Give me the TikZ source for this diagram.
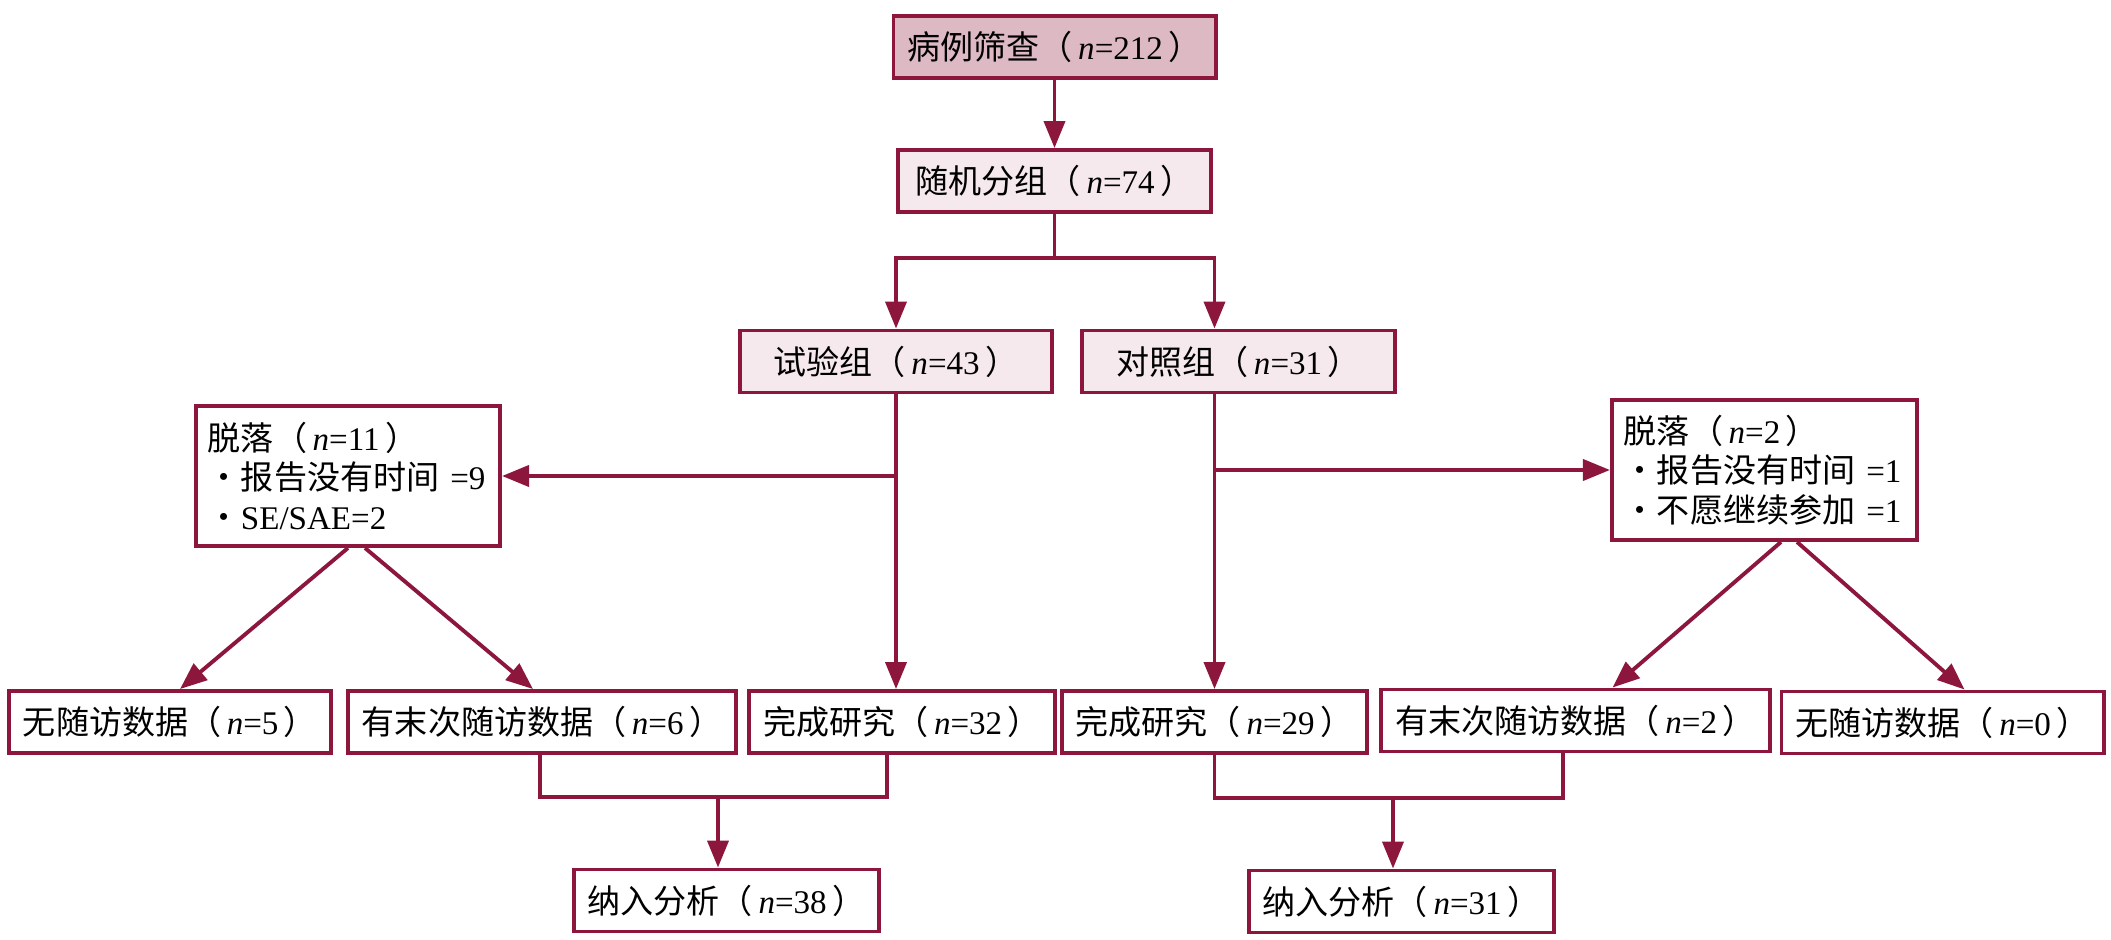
\documentclass[tikz,border=0pt]{standalone}
\usepackage{fontspec}
\setmainfont{Liberation Serif}
\newfontfamily\cjk{Noto Sans CJK SC}
\usetikzlibrary{arrows.meta,positioning}
\definecolor{wine}{RGB}{140,22,60}
\definecolor{pinkdark}{RGB}{221,185,196}
\definecolor{pinklight}{RGB}{245,233,237}
\newcommand{\zh}[1]{{\cjk #1}}
\newcommand{\nval}[1]{\zh{（}\,\textit{n}=#1\,\zh{）}}
\tikzstyle{box}=[draw=wine,line width=1.1pt,inner xsep=0.14cm,inner ysep=0pt,align=center,minimum height=0.62cm,font=\fontsize{9.4}{11.3}\selectfont]
\tikzstyle{dropbox}=[box,align=left,inner xsep=0.12cm,minimum height=1.40cm]
\tikzstyle{link}=[draw=wine,line width=1.1pt]
\tikzstyle{arr}=[link,-{Triangle[length=0.27cm,width=0.21cm]}]

\begin{document}
\begin{tikzpicture}[x=0.01cm,y=-0.01cm]
\useasboundingbox (0,0) rectangle (2111,940);

% top part
\node [box,fill=pinkdark,minimum width=3.13cm] (screen) at (1054.5,47) {\zh{病例筛查}\nval{212}};
\node [box,fill=pinklight,minimum width=3.13cm] (rand) at (1054.5,181) {\zh{随机分组}\nval{74}};
\node [box,fill=pinklight,minimum width=3.12cm] (exp) at (896,361.5) {\zh{试验组}\nval{43}};
\node [box,fill=pinklight,minimum width=3.13cm] (ctrl) at (1238.5,361.5) {\zh{对照组}\nval{31}};

% drop outs
\node [dropbox,text width=2.80cm] (drop1) at (348,476) {\zh{脱落}\nval{11}\\\zh{・报告没有时间}~=9\\\zh{・}SE/SAE=2};
\node [dropbox,text width=2.81cm] (drop2) at (1764.5,470) {\zh{脱落}\nval{2}\\\zh{・报告没有时间}~=1\\\zh{・不愿继续参加}~=1};

% bottom row
\node [box,minimum width=3.12cm] (nofu1) at (170,722) {\zh{无随访数据}\nval{5}};
\node [box,minimum width=3.78cm] (last1) at (542,722) {\zh{有末次随访数据}\nval{6}};
\node [box,minimum width=2.96cm] (done1) at (902,722) {\zh{完成研究}\nval{32}};
\node [box,minimum width=2.93cm] (done2) at (1214.5,722) {\zh{完成研究}\nval{29}};
\node [box,minimum width=3.79cm] (last2) at (1575.5,720.5) {\zh{有末次随访数据}\nval{2}};
\node [box,minimum width=3.11cm] (nofu2) at (1942.5,722.5) {\zh{无随访数据}\nval{0}};
\node [box,minimum width=2.95cm] (in38) at (726.5,900.5) {\zh{纳入分析}\nval{38}};
\node [box,minimum width=2.95cm] (in31) at (1401.5,901.5) {\zh{纳入分析}\nval{31}};

\coordinate (split) at (1054.5,258);
\coordinate (joinL) at (718,797);
\coordinate (joinR) at (1393,798);

% connectors
\draw [arr] (screen) -- (rand);
\draw [link] (rand) -- (split);
\draw [arr] (split) -| (exp.north);
\draw [arr] (split) -| (ctrl.north -| done2.north);
\draw [arr] (exp.south) -- (exp.south |- done1.north);
\draw [arr] (ctrl.south -| done2.north) -- (done2.north);
\draw [arr] (exp.south |- drop1.east) -- (drop1.east);
\draw [arr] (done2.north |- drop2.west) -- (drop2.west);
\draw [arr] (drop1.south) -- ([xshift=0.1cm]nofu1.north);
\draw [arr] ([xshift=0.17cm]drop1.south) -- ([xshift=-0.09cm]last1.north);
\draw [arr] ([xshift=0.165cm]drop2.south) -- ([xshift=0.37cm]last2.north);
\draw [arr] ([xshift=0.325cm]drop2.south) -- ([xshift=0.22cm]nofu2.north);
\draw [link] ([xshift=-0.02cm]last1.south) |- (joinL) -| ([xshift=-0.15cm]done1.south);
\draw [arr] (joinL) -- (joinL |- in38.north);
\draw [link] (done2.south) |- (joinR) -| ([xshift=-0.125cm]last2.south);
\draw [arr] (joinR) -- (joinR |- in31.north);
\end{tikzpicture}
\end{document}
